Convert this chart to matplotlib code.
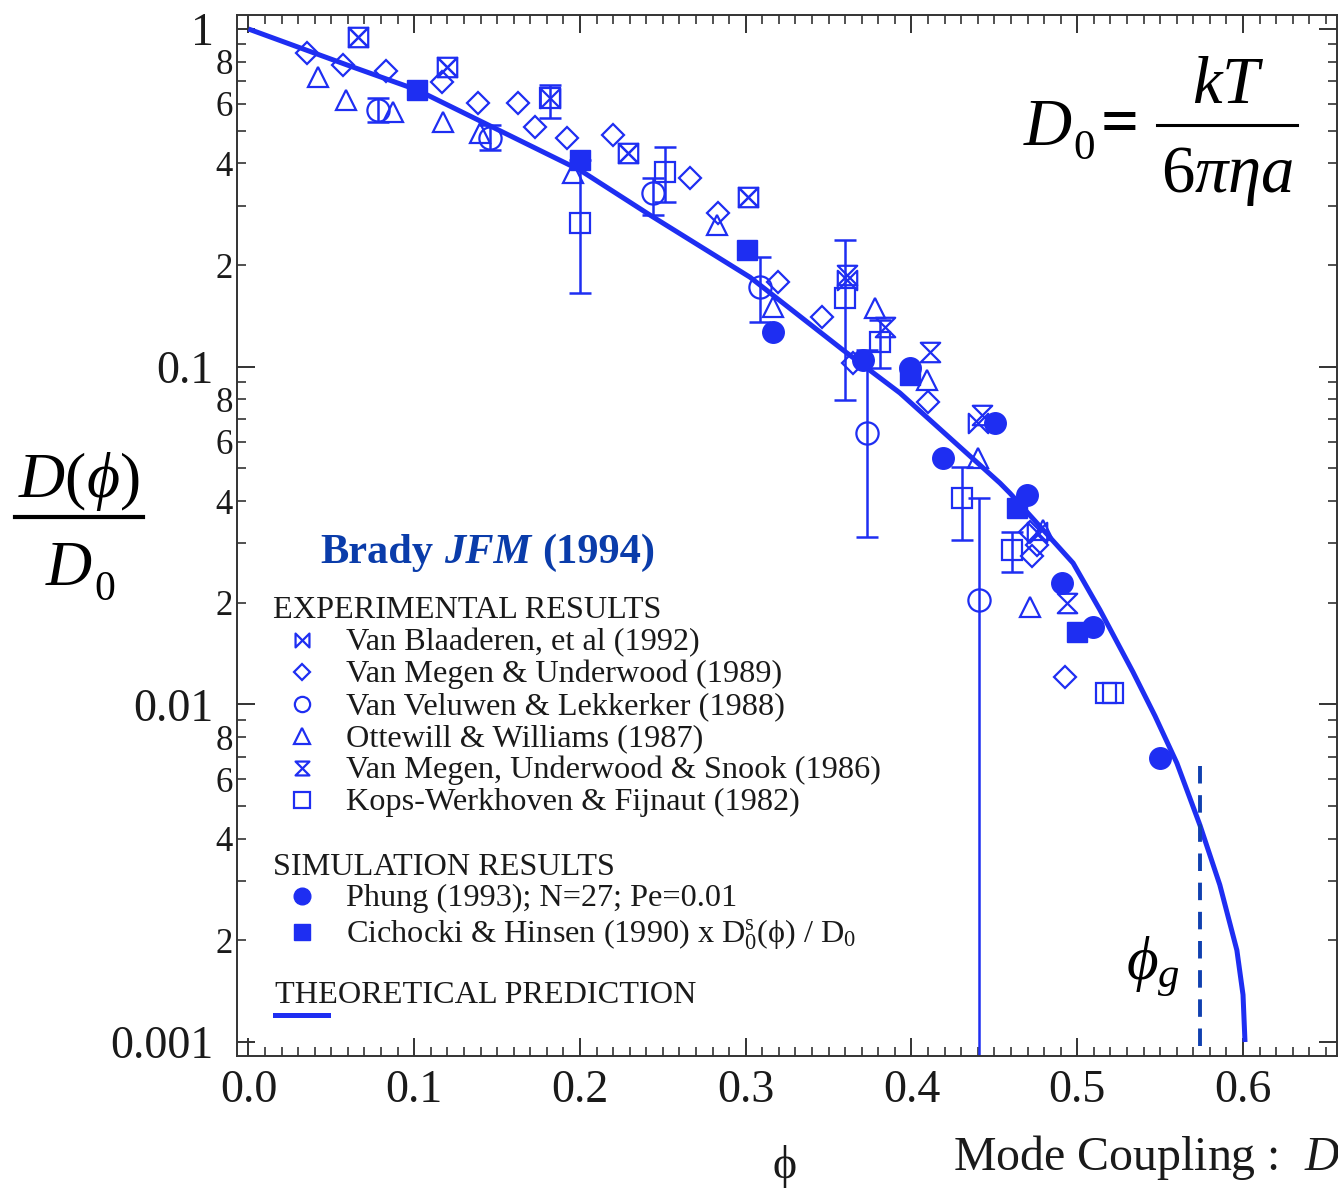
import numpy as np
import matplotlib
matplotlib.use('Agg')
import matplotlib.pyplot as plt
from matplotlib.path import Path
from matplotlib.lines import Line2D
from matplotlib.ticker import FixedLocator, FixedFormatter

plt.rcParams['font.family'] = ['Liberation Serif', 'DejaVu Serif']
plt.rcParams['mathtext.fontset'] = 'custom'
plt.rcParams['mathtext.rm'] = 'Liberation Serif'
plt.rcParams['mathtext.it'] = 'Liberation Serif:italic'
plt.rcParams['mathtext.bf'] = 'Liberation Serif:bold'

# ---------------- data ----------------
theory_phi = [0.0, 0.0596, 0.1017, 0.2, 0.2423, 0.3026, 0.3587, 0.3930,
              0.4534, 0.4594, 0.4975, 0.5137, 0.5336, 0.5469, 0.5601, 0.5740,
              0.5860, 0.5963, 0.6000, 0.6012]
theory_D = [1.0, 0.782, 0.660, 0.382, 0.281, 0.184, 0.112, 0.0836,
            0.0452, 0.0422, 0.0262, 0.01903, 0.01247, 0.00924, 0.0067, 0.00439,
            0.00292, 0.00187, 0.00138, 0.00100]

blaaderen_phi = [0.0661, 0.1198, 0.1819, 0.2290, 0.3014, 0.3611, 0.4401, 0.4757]
blaaderen_D = [0.947, 0.772, 0.625, 0.429, 0.318, 0.1805, 0.0681, 0.0324]

megen89_phi = [0.0353, 0.0570, 0.0829, 0.1167, 0.1384, 0.1625, 0.1728, 0.1921,
               0.2198, 0.2663, 0.2832, 0.3194, 0.3460, 0.3647, 0.4100, 0.4715,
               0.4757, 0.4727, 0.4926]
megen89_D = [0.849, 0.782, 0.751, 0.697, 0.604, 0.604, 0.513, 0.476, 0.485,
             0.362, 0.285, 0.178, 0.140, 0.1025, 0.0786, 0.0324, 0.0296,
             0.0275, 0.01205]

veluwen_phi = [0.0781, 0.1456, 0.2440, 0.3086, 0.3732, 0.4407]
veluwen_D = [0.575, 0.476, 0.327, 0.172, 0.0636, 0.0204]
veluwen_lo = [0.530, 0.438, 0.281, 0.136, 0.0313, 0.0005]
veluwen_hi = [0.625, 0.520, 0.362, 0.211, 0.112, 0.0408]

ottewill_phi = [0.0419, 0.0588, 0.0872, 0.1173, 0.1397, 0.1958, 0.2827, 0.3164,
                0.3780, 0.4094, 0.4401, 0.4715, 0.4793]
ottewill_D = [0.721, 0.616, 0.568, 0.530, 0.492, 0.375, 0.263, 0.150, 0.149,
              0.0913, 0.0536, 0.0194, 0.0328]

snook_phi = [0.0661, 0.1198, 0.2290, 0.3014, 0.3611, 0.3840, 0.4112, 0.4425, 0.4938]
snook_D = [0.947, 0.772, 0.429, 0.318, 0.1868, 0.131, 0.1105, 0.0719, 0.0200]

kops_phi = [0.1819, 0.2000, 0.2513, 0.3599, 0.3810, 0.4305, 0.4606, 0.5173, 0.5216]
kops_D = [0.625, 0.266, 0.377, 0.160, 0.118, 0.0408, 0.0286, 0.0108, 0.0108]
kops_lo = [0.545, 0.165, 0.307, 0.0796, 0.0991, 0.0307, 0.0247, np.nan, np.nan]
kops_hi = [0.683, 0.409, 0.447, 0.237, 0.1374, 0.0505, 0.0324, np.nan, np.nan]

phung_phi = [0.3164, 0.3707, 0.3991, 0.4504, 0.4190, 0.4697, 0.4908, 0.5095, 0.5499]
phung_D = [0.1266, 0.1047, 0.0991, 0.0681, 0.0536, 0.0417, 0.0229, 0.0169, 0.00693]

cichocki_phi = [0.1017, 0.2000, 0.3008, 0.3991, 0.4637, 0.4998]
cichocki_D = [0.660, 0.409, 0.2215, 0.0945, 0.0382, 0.0164]

phi_g = 0.574
phi_g_range = [0.00097, 0.0067]

x_ticks = [0.0, 0.1, 0.2, 0.3, 0.4, 0.5, 0.6]
x_ticklabels = ['0.0', '0.1', '0.2', '0.3', '0.4', '0.5', '0.6']
y_ticks = [0.001, 0.01, 0.1, 1.0]
y_ticklabels = ['0.001', '0.01', '0.1', '1']

legend_exp = ['Van Blaaderen, et al (1992)', 'Van Megen & Underwood (1989)',
              'Van Veluwen & Lekkerker (1988)', 'Ottewill & Williams (1987)',
              'Van Megen, Underwood & Snook (1986)', 'Kops-Werkhoven & Fijnaut (1982)']
legend_sim = ['Phung (1993); N=27; Pe=0.01',
              r'Cichocki & Hinsen (1990) x D$_0^{\mathrm{s}}$(ϕ) / D$_0$']

# ---------------- style ----------------
BLUE = '#1e2ef2'
DARKBLUE = '#0a3caa'
DASHBLUE = '#1040b0'
TXT = '#1a1a1a'
W, H = 1338, 1191

bowtie = Path([(-1, -1), (-1, 1), (1, -1), (1, 1), (-1, -1)],
              [Path.MOVETO, Path.LINETO, Path.LINETO, Path.LINETO, Path.CLOSEPOLY])
hourglass = Path([(-1, 1), (1, 1), (-1, -1), (1, -1), (-1, 1)],
                 [Path.MOVETO, Path.LINETO, Path.LINETO, Path.LINETO, Path.CLOSEPOLY])

fig = plt.figure(figsize=(W / 100, H / 100), dpi=100)
ax = fig.add_axes([237 / W, 1 - 1056 / H, 1100 / W, 1041 / H])
ax.set_yscale('log')
ax.set_xlim(-0.0069, 0.6567)
ax.set_ylim(0.000909, 1.10)


def P(px, py):
    return (px / W, 1 - py / H)


def errbars(phi, D, lo, hi):
    D = np.asarray(D, float)
    yerr = np.vstack([D - np.asarray(lo, float), np.asarray(hi, float) - D])
    ax.errorbar(phi, D, yerr=yerr, fmt='none', ecolor=BLUE, elinewidth=1.8,
                capsize=8, capthick=1.8, zorder=2)


errbars(veluwen_phi, veluwen_D, veluwen_lo, veluwen_hi)
errbars(kops_phi, kops_D, kops_lo, kops_hi)

ax.plot(theory_phi, theory_D, color=BLUE, lw=3.6, zorder=3, solid_capstyle='butt',
        solid_joinstyle='round')

open_kw = dict(ls='none', mfc='none', mec=BLUE, mew=1.6, zorder=4)
ax.plot(megen89_phi, megen89_D, marker='D', ms=11, **open_kw)
ax.plot(ottewill_phi, ottewill_D, marker='^', ms=15, **open_kw)
ax.plot(veluwen_phi, veluwen_D, marker='o', ms=16, **open_kw)
ax.plot(kops_phi, kops_D, marker='s', ms=15, **open_kw)
ax.plot(blaaderen_phi, blaaderen_D, marker=bowtie, ms=14, **open_kw)
ax.plot(snook_phi, snook_D, marker=hourglass, ms=14, **open_kw)
ax.plot(phung_phi, phung_D, ls='none', marker='o', ms=15.5, mfc=BLUE, mec=BLUE, zorder=5)
ax.plot(cichocki_phi, cichocki_D, ls='none', marker='s', ms=14.5, mfc=BLUE, mec=BLUE,
        zorder=5)

ax.plot([phi_g, phi_g], phi_g_range, color=DASHBLUE, lw=2.8, dashes=(4.5, 3), zorder=3)

# ---------------- axes ----------------
ax.xaxis.set_major_locator(FixedLocator(x_ticks))
ax.xaxis.set_major_formatter(FixedFormatter(x_ticklabels))
ax.xaxis.set_minor_locator(FixedLocator([i / 100 for i in range(0, 66)]))
ax.yaxis.set_major_locator(FixedLocator(y_ticks))
ax.yaxis.set_major_formatter(FixedFormatter(y_ticklabels))
minor_vals, minor_labels = [], []
for e in (-3, -2, -1):
    for k in range(2, 10):
        minor_vals.append(k * 10.0 ** e)
        minor_labels.append(str(k) if k in (2, 4, 6, 8) else '')
ax.yaxis.set_minor_locator(FixedLocator(minor_vals))
ax.yaxis.set_minor_formatter(FixedFormatter(minor_labels))

ax.tick_params(which='both', direction='in', top=True, right=True, color='#333333',
               labelcolor=TXT)
ax.tick_params(which='major', length=13, width=1.4)
ax.tick_params(which='minor', length=6.5, width=1.2)
ax.tick_params(axis='y', which='major', labelsize=33, pad=17)
ax.tick_params(axis='y', which='minor', labelsize=25, pad=3)
ax.tick_params(axis='x', which='major', labelsize=33, pad=10)
for s in ax.spines.values():
    s.set_linewidth(1.4)
    s.set_color('#333333')

# ---------------- texts ----------------
fig.text(*P(785, 1178), 'ϕ', fontsize=33, ha='center', va='baseline', color=TXT)
fig.text(*P(953, 1170), r'Mode Coupling :  $D$', fontsize=34.5, ha='left',
         va='baseline', color=TXT)

# y-label fraction
fig.text(*P(18, 497), r'$D(\phi)$', fontsize=46, ha='left', va='baseline', color='black')
fig.add_artist(Line2D([15 / W, 143 / W], [1 - 517 / H, 1 - 517 / H], color='black',
                      lw=3, transform=fig.transFigure))
fig.text(*P(45, 585), r'$D$', fontsize=46, ha='left', va='baseline', color='black')
fig.text(*P(94, 600), '0', fontsize=30, ha='left', va='baseline', color='black')

# D0 formula
fig.text(*P(1023, 145), r'$D$', fontsize=48, ha='left', va='baseline', color='black')
fig.text(*P(1073, 159), '0', fontsize=31, ha='left', va='baseline', color='black')
fig.text(*P(1120, 143), '=', fontsize=48, ha='center', va='baseline', color='black',
         fontweight='bold')
fig.add_artist(Line2D([1157 / W, 1297 / W], [1 - 125 / H, 1 - 125 / H], color='black',
                      lw=2.2, transform=fig.transFigure))
fig.text(*P(1228, 103), r'$kT$', fontsize=48, ha='center', va='baseline', color='black')
fig.text(*P(1227, 192), r'$6\pi\eta a$', fontsize=48, ha='center', va='baseline',
         color='black')

# phi_g
fig.text(*P(1126, 980), r'$\phi_g$', fontsize=44, ha='left', va='baseline', color='black')

# Brady JFM (1994)
r = fig.canvas.get_renderer()
x0 = 320
parts = [('Brady', 'normal'), ('JFM', 'italic'), ('(1994)', 'normal')]
for txt, sty in parts:
    t = fig.text(*P(x0, 563), txt, fontsize=30.5, fontweight='bold', fontstyle=sty,
                 color=DARKBLUE, ha='left', va='baseline')
    w = t.get_window_extent(r).width
    x0 += w + 11

# legend
LFS = 23.2
fig.text(*P(273, 618), 'EXPERIMENTAL RESULTS', fontsize=LFS, color=TXT, va='baseline')
exp_markers = [(bowtie, 10), ('D', 8.5), ('o', 11), ('^', 11), (hourglass, 10), ('s', 11)]
for i, (lab, (m, ms)) in enumerate(zip(legend_exp, exp_markers)):
    yc = 640 + 32 * i
    fig.add_artist(Line2D([302 / W], [1 - yc / H], transform=fig.transFigure, marker=m,
                          ms=ms, mfc='none', mec=BLUE, mew=1.6, ls='none'))
    fig.text(*P(346, yc + 10), lab, fontsize=LFS, color=TXT, va='baseline')

fig.text(*P(273, 875), 'SIMULATION RESULTS', fontsize=LFS, color=TXT, va='baseline')
sim_markers = [('o', 12), ('s', 12)]
for i, (lab, (m, ms)) in enumerate(zip(legend_sim, sim_markers)):
    yc = [896, 932][i]
    fig.add_artist(Line2D([302 / W], [1 - yc / H], transform=fig.transFigure, marker=m,
                          ms=ms, mfc=BLUE, mec=BLUE, ls='none'))
    fig.text(*P(346, yc + 10), lab, fontsize=LFS, color=TXT, va='baseline')

fig.text(*P(275, 1003), 'THEORETICAL PREDICTION', fontsize=LFS, color=TXT, va='baseline')
fig.add_artist(Line2D([275 / W, 328 / W], [1 - 1015 / H, 1 - 1015 / H], color=BLUE,
                      lw=3.6, transform=fig.transFigure))

fig.savefig('out.png', dpi=100)
